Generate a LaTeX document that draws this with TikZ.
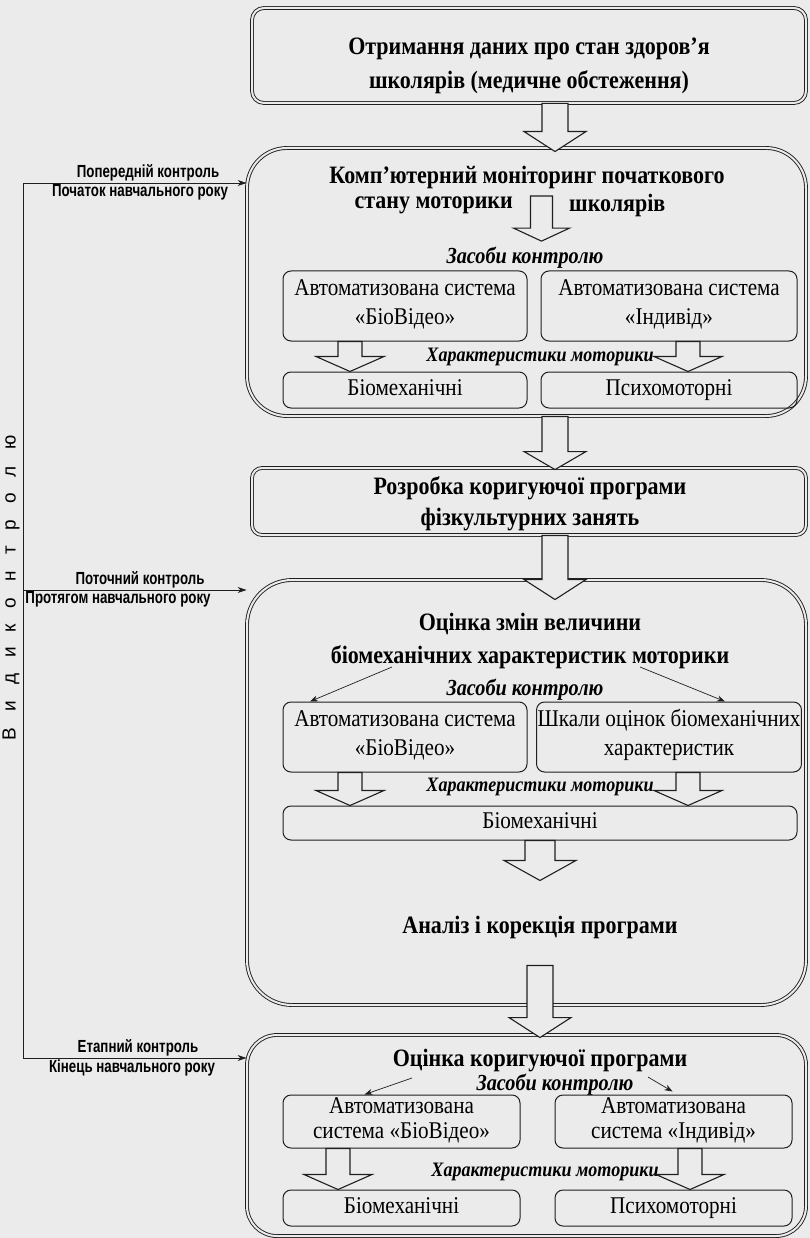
\documentclass[tikz,border=0pt]{standalone}
\usepackage{fontspec}
\setmainfont{Liberation Serif}[FakeStretch=0.88]
\newfontfamily\lblfont{Liberation Sans}[FakeStretch=0.76]
\newfontfamily\vfont{Liberation Sans}[LetterSpace=85]
\usetikzlibrary{arrows.meta,calc}
\definecolor{bg}{gray}{0.92}
\definecolor{ink}{gray}{0.12}
\tikzset{
  frame/.style={draw=ink, double=bg, double distance=2pt, line width=0.9pt},
  subbox/.style={draw=ink, line width=1pt, rounded corners=8pt, inner sep=1pt, align=center,
     font=\fontsize{24}{29}\selectfont, execute at begin node=\strut, execute at end node=\strut},
  ttl/.style={font=\fontsize{25}{34}\selectfont\bfseries, align=center, inner sep=2pt},
  zas/.style={font=\fontsize{23}{24}\selectfont\bfseries\itshape, inner sep=2pt},
  ital/.style={font=\fontsize{20.5}{22}\selectfont\bfseries\itshape, inner sep=2pt},
  lbl/.style={font=\lblfont\fontsize{17.5}{18}\selectfont\bfseries, inner sep=1.2pt},
  barrow/.style n args={3}{to path={let \p1=(\tikztostart), \p2=(\tikztotarget) in
     (\x1-#1,\y1) -- (\x1-#1,\y2+#3) -- (\x1-#2,\y2+#3) -- (\x1,\y2) -- (\x1+#2,\y2+#3) -- (\x1+#1,\y2+#3) -- (\x1+#1,\y1) -- cycle}},
  blk/.style={draw=ink, fill=bg, line width=1.1pt, line join=miter},
  tarrow/.style={draw=ink, line width=0.7pt, -{Stealth[length=8pt,width=6pt]}},
  sidearrow/.style={draw=ink, line width=0.9pt, -{Stealth[length=9pt,width=6pt]}},
}
\begin{document}
\begin{tikzpicture}[x=1pt,y=-1pt]
\useasboundingbox (0,0) rectangle (810,1238);
\fill[bg] (0,0) rectangle (810,1238);

% ---------- box 1
\node[frame, rounded corners=12pt, minimum width=554pt, minimum height=95pt] (b1) at (529,55.5) {};
\node[ttl] (t1) at (529,66) {Отримання даних про стан здоров’я\\школярів (медичне обстеження)};

% ---------- box 2
\node[frame, rounded corners=40pt, minimum width=559pt, minimum height=268pt] (b2) at (526.5,282) {};
\node[ttl] (t2a) at (527,177) {Комп'ютерний моніторинг початкового};
\node[ttl, anchor=east] (t2b) at (515,205) {стану моторики};
\node[ttl, anchor=west] (t2c) at (567,205) {школярів};
\coordinate (a2s) at (541.5,196);
\node[zas] (z2) at (525,258) {Засоби контролю};
\node[subbox, minimum width=244pt, minimum height=70pt] (s2l) at (405,306) {Автоматизована система\\«БіоВідео»};
\node[subbox, minimum width=256pt, minimum height=70pt] (s2r) at (669,306) {Автоматизована система\\«Індивід»};
\node[ital] (h2) at (540,357) {Характеристики моторики};
\node[subbox, minimum width=244pt, minimum height=36pt] (b2l) at (405,390) {Біомеханічні};
\node[subbox, minimum width=256pt, minimum height=36pt] (b2r) at (669,390) {Психомоторні};

% ---------- box 3
\node[frame, rounded corners=10pt, minimum width=554pt, minimum height=67pt] (b3) at (529,501.5) {};
\node[ttl, font=\fontsize{25}{31}\selectfont\bfseries] (t3) at (530,504) {Розробка коригуючої програми\\фізкультурних занять};

% ---------- box 4
\node[frame, rounded corners=45pt, minimum width=559pt, minimum height=425pt] (b4) at (526.5,792.5) {};
\node[ttl, font=\fontsize{25}{33}\selectfont\bfseries] (t4) at (530,641) {Оцінка змін величини\\біомеханічних характеристик моторики};
\node[zas] (z4) at (525,690) {Засоби контролю};
\coordinate (t4l) at (392,667);
\coordinate (t4r) at (640,667);
\node[subbox, minimum width=244pt, minimum height=70pt] (s4l) at (405,737) {Автоматизована система\\«БіоВідео»};
\node[subbox, minimum width=256pt, minimum height=70pt] (s4r) at (669,737) {Шкали оцінок біомеханічних\\характеристик};
\node[ital] (h4) at (540,787) {Характеристики моторики};
\node[subbox, minimum width=514pt, minimum height=34pt] (w4) at (540,823) {Біомеханічні};
\node[ttl] (an4) at (540,927) {Аналіз і корекція програми};

% ---------- box 5
\node[frame, rounded corners=30pt, minimum width=559pt, minimum height=201pt] (b5) at (526.5,1135.5) {};
\node[ttl] (t5) at (540,1061) {Оцінка коригуючої програми};
\node[zas] (z5) at (555,1085) {Засоби контролю};
\coordinate (t5l) at (412,1078);
\coordinate (t5r) at (648,1077);
\node[subbox, font=\fontsize{24}{25}\selectfont, minimum width=237pt, minimum height=53pt] (s5l) at (401.5,1121.5) {Автоматизована\\система «БіоВідео»};
\node[subbox, font=\fontsize{24}{25}\selectfont, minimum width=237pt, minimum height=53pt] (s5r) at (673.5,1121.5) {Автоматизована\\система «Індивід»};
\node[ital] (h5) at (545,1172) {Характеристики моторики};
\node[subbox, minimum width=237pt, minimum height=36pt] (b5l) at (401.5,1208) {Біомеханічні};
\node[subbox, minimum width=237pt, minimum height=36pt] (b5r) at (673.5,1208) {Психомоторні};

% ---------- block arrows
\draw[blk] ([xshift=26pt]b1.south) to[barrow={13pt}{31pt}{20pt}] ([yshift=-4pt]b2.north);
\draw[blk] (a2s) to[barrow={11pt}{28pt}{13pt}] ([yshift=4pt]z2.north);
\draw[blk] ([xshift=-55pt]s2l.south) to[barrow={12pt}{34pt}{15pt}] (b2l.north);
\draw[blk] ([xshift=19pt]s2r.south) to[barrow={12pt}{34pt}{15pt}] (b2r.north);
\draw[blk] ([xshift=28.5pt]b2.south) to[barrow={13pt}{31pt}{18pt}] ([yshift=-2pt]b3.north);
\draw[blk] ([xshift=26pt]b3.south) to[barrow={13pt}{31pt}{20pt}] ([yshift=-20pt]b4.north);
\draw[blk] ([xshift=-55pt]s4l.south) to[barrow={12pt}{34pt}{15pt}] (w4.north);
\draw[blk] ([xshift=19pt]s4r.south) to[barrow={12pt}{34pt}{15pt}] (w4.north -| s4r.south);
\draw[blk] (w4.south) to[barrow={15pt}{36pt}{20pt}] ([yshift=33pt]an4.north);
\draw[blk] ([xshift=13.5pt,yshift=40pt]b4.south) to[barrow={13pt}{31pt}{20pt}] ([yshift=-3pt]b5.north);
\draw[blk] ([xshift=-63.5pt]s5l.south) to[barrow={12pt}{34pt}{15pt}] (b5l.north);
\draw[blk] ([xshift=16.5pt]s5r.south) to[barrow={12pt}{34pt}{15pt}] (b5r.north);

% ---------- thin arrows
\draw[tarrow] (t4l) -- ([xshift=-95pt]s4l.north);
\draw[tarrow] (t4r) -- ([xshift=56pt]s4r.north);
\draw[tarrow] (t5l) -- ([xshift=-37pt]s5l.north);
\draw[tarrow] (t5r) -- ([xshift=-1pt,yshift=3pt]s5r.north);

% ---------- left side
\coordinate (v1) at (23,183);
\coordinate (v2) at (23,590);
\coordinate (v3) at (23,1058);
\draw[ink, line width=0.9pt] (v1) -- (v3);
\draw[sidearrow] (v1) -- (v1 -| b2.west);
\draw[sidearrow] (v2) -- (v2 -| b4.west);
\draw[sidearrow] (v3) -- (v3 -| b5.west);
\node[lbl, anchor=south] (l1a) at (148,183) {Попередній контроль};
\node[lbl, anchor=north] (l1b) at (140,183) {Початок навчального року};
\node[lbl, anchor=south] (l2a) at (140,590) {Поточний контроль};
\node[lbl, anchor=north] (l2b) at (118,590) {Протягом навчального року};
\node[lbl, anchor=south] (l3a) at (138,1058) {Етапний контроль};
\node[lbl, anchor=north] (l3b) at (132,1058) {Кінець навчального року};
\node[rotate=90, font=\vfont\fontsize{19}{19}\selectfont] (vt) at (11,588) {Види\hspace{14pt}контролю};
\end{tikzpicture}
\end{document}
